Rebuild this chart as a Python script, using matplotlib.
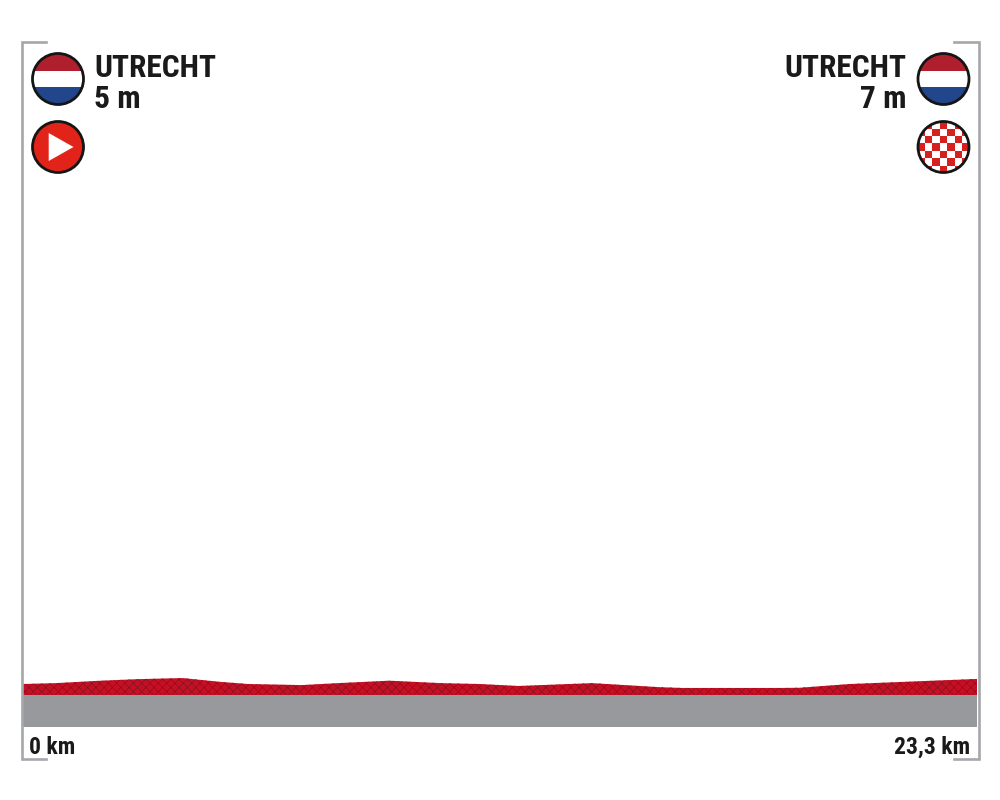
import matplotlib.pyplot as plt
from matplotlib.patches import Circle, Polygon, Rectangle

km = [0, 0.8, 1.9, 2.8, 3.9, 4.8, 5.5, 6.8, 7.7, 8.95, 10.2, 11.15, 12.1, 13.9, 15.5, 16.1, 18.5, 18.97, 20.2, 23.3]
elev = [5.0, 5.4, 6.5, 7.2, 7.7, 6.0, 5.0, 4.5, 5.4, 6.5, 5.4, 5.0, 4.1, 5.4, 3.6, 3.2, 3.2, 3.3, 5.0, 7.3]

start_name = "UTRECHT"
start_alt = "5 m"
end_name = "UTRECHT"
end_alt = "7 m"
start_km = "0 km"
end_km = "23,3 km"

FONT = ["Roboto Condensed", "Liberation Sans", "DejaVu Sans"]
plt.rcParams["hatch.linewidth"] = 0.4

fig = plt.figure(figsize=(10, 8), dpi=100, facecolor="white")

# profile axes: 2.2 px per metre, zero at y=695 px
ax = fig.add_axes([23 / 1000, (800 - 727) / 800, 954 / 1000, 67 / 800])
ax.set_xlim(0, 23.3)
ax.set_ylim(-32 / 2.2, 35 / 2.2)
ax.axis("off")
ax.fill_between(km, elev, 0, facecolor="#c60f24", edgecolor="#7d101c", hatch="xxxx", linewidth=0)
ax.fill_between(km, 0, -32 / 2.2, color="#97999c", linewidth=0)

# overlay in pixel coordinates for frame and icons
ov = fig.add_axes([0, 0, 1, 1])
ov.set_xlim(0, 1000)
ov.set_ylim(800, 0)
ov.axis("off")
ov.patch.set_alpha(0)

grey = "#a5a7aa"
ov.plot([46, 21.5, 21.5, 46], [42, 42, 759, 759], color=grey, lw=1.9, solid_joinstyle="miter")
ov.plot([954, 978.5, 978.5, 954], [42, 42, 759, 759], color=grey, lw=1.9, solid_joinstyle="miter")


def flag(cx, cy, r=25.5):
    clip = Circle((cx, cy), r, transform=ov.transData)
    bands = [(cy - r, cy - 8.3, "#b01f2e"), (cy - 8.3, cy + 8.3, "white"), (cy + 8.3, cy + r, "#21468b")]
    for y0, y1, col in bands:
        s = Rectangle((cx - r, y0), 2 * r, y1 - y0, fc=col, ec="none")
        ov.add_patch(s)
        s.set_clip_path(clip)
    ov.add_patch(Circle((cx, cy), r, fc="none", ec="#151515", lw=2.0))


flag(58, 79)
flag(943.5, 79)

# start icon
ov.add_patch(Circle((58, 147), 25.5, fc="#e2231a", ec="#151515", lw=2.0))
ov.add_patch(Polygon([(48.7, 133), (48.7, 161), (73.5, 147)], fc="white", ec="none"))

# finish icon
cx, cy, r, sq = 943.5, 147, 25.5, 7.4
clip = Circle((cx, cy), r, transform=ov.transData)
ov.add_patch(Circle((cx, cy), r, fc="white", ec="none"))
for i in range(-4, 5):
    for j in range(-4, 5):
        if (i + j) % 2 != 0:
            s = Rectangle((cx + (i - 0.5) * sq, cy + (j - 0.5) * sq), sq, sq, fc="#d81f20", ec="none")
            ov.add_patch(s)
            s.set_clip_path(clip)
ov.add_patch(Circle((cx, cy), r, fc="none", ec="#151515", lw=2.0))

txt = dict(family=FONT, fontweight="bold", color="#1a1a1a", va="baseline")
ov.text(94, 77, start_name, ha="left", fontsize=22.7, **txt)
ov.text(94, 108, start_alt, ha="left", fontsize=22.7, **txt)
ov.text(906, 77, end_name, ha="right", fontsize=22.7, **txt)
ov.text(906, 108, end_alt, ha="right", fontsize=22.7, **txt)
ov.text(29, 754, start_km, ha="left", fontsize=17, **txt)
ov.text(970, 754, end_km, ha="right", fontsize=17, **txt)

fig.savefig("out.png", dpi=100)
